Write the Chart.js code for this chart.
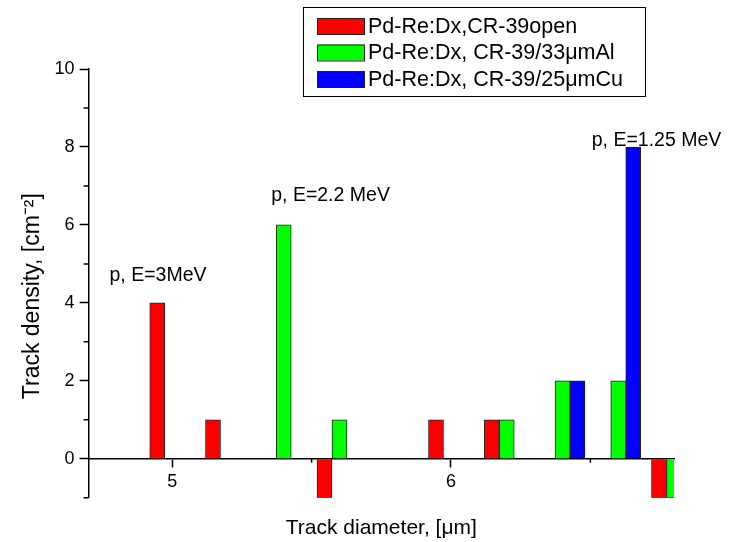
<!DOCTYPE html>
<html>
<head>
<meta charset="utf-8">
<script src="https://cdn.jsdelivr.net/npm/chart.js@4.4.1/dist/chart.umd.min.js"></script>
<style>
  html, body { margin: 0; padding: 0; background: #fff; }
  #wrap { width: 738px; height: 542px; }
</style>
</head>
<body>
<div id="wrap"><canvas id="trackChart"></canvas></div>
<script>
// DATA (bin centres in um, track densities in cm^-2)
var openX = [5.0, 5.2, 5.6, 6.0, 6.2, 6.8];
var openY = [4, 1, -1, 1, 1, -1];
var alX = [5.4, 5.6, 6.2, 6.4, 6.6, 6.8];
var alY = [6, 1, 1, 2, 2, -1];
var cuX = [6.4, 6.6];
var cuY = [2, 8];

var seriesLabels = ['Pd-Re:Dx,CR-39open', 'Pd-Re:Dx, CR-39/33\u03bcmAl', 'Pd-Re:Dx, CR-39/25\u03bcmCu'];
var seriesColors = ['#ff0000', '#00ff00', '#0000ff'];

var xMajorTicks = [5, 6];
var xMinorTicks = [5.5, 6.5];
var yMajorTicks = [0, 2, 4, 6, 8, 10];
var yMinorTicks = [-1, 1, 3, 5, 7, 9];

var noteTexts = ['p, E=3MeV', 'p, E=2.2 MeV', 'p, E=1.25 MeV'];
var noteX = [4.775, 5.355, 6.505];
var noteY = [4.7, 6.75, 8.15];

var FONT = "'Liberation Sans', Arial, sans-serif";

function toPoints(xs, ys) {
    return xs.map(function (v, i) { return { x: v, y: ys[i] }; });
}

// minor ticks on both axes
var minorTicks = {
    id: 'minorTicks',
    afterDraw: function (chart) {
        var ctx = chart.ctx, xs = chart.scales.x, ys = chart.scales.y;
        var y0 = ys.getPixelForValue(0);
        var left = chart.chartArea.left;
        ctx.save();
        ctx.strokeStyle = '#000';
        ctx.lineWidth = 1.5;
        ctx.beginPath();
        xMinorTicks.forEach(function (v) {
            var px = xs.getPixelForValue(v);
            ctx.moveTo(px, y0);
            ctx.lineTo(px, y0 + 4);
        });
        yMinorTicks.forEach(function (v) {
            var py = ys.getPixelForValue(v);
            ctx.moveTo(left, py);
            ctx.lineTo(left - 5, py);
        });
        ctx.stroke();
        ctx.restore();
    }
};

// text labels over the peaks
var peakNotes = {
    id: 'peakNotes',
    afterDraw: function (chart) {
        var ctx = chart.ctx, xs = chart.scales.x, ys = chart.scales.y;
        ctx.save();
        ctx.fillStyle = '#000';
        ctx.font = '19.5px ' + FONT;
        ctx.textAlign = 'left';
        ctx.textBaseline = 'middle';
        noteTexts.forEach(function (t, i) {
            ctx.fillText(t, xs.getPixelForValue(noteX[i]), ys.getPixelForValue(noteY[i]));
        });
        ctx.restore();
    }
};

// boxed legend, one entry per line
var boxLegend = {
    id: 'boxLegend',
    afterDraw: function (chart, args, opts) {
        var ctx = chart.ctx;
        ctx.save();
        ctx.strokeStyle = '#000';
        ctx.lineWidth = 1;
        ctx.fillStyle = '#fff';
        ctx.fillRect(opts.left, opts.top, opts.width, opts.height);
        ctx.strokeRect(opts.left + 0.5, opts.top + 0.5, opts.width, opts.height);
        ctx.font = '21.5px ' + FONT;
        ctx.textBaseline = 'middle';
        chart.data.datasets.forEach(function (ds, i) {
            var cy = opts.top + opts.firstRow + i * opts.rowGap;
            ctx.fillStyle = ds.backgroundColor;
            ctx.fillRect(opts.left + 14, cy - 8, 47, 16);
            ctx.strokeStyle = '#222';
            ctx.strokeRect(opts.left + 14.5, cy - 7.5, 47, 16);
            ctx.fillStyle = '#000';
            ctx.fillText(ds.label, opts.left + 65, cy + 1);
        });
        ctx.restore();
    }
};

var ctx = document.getElementById('trackChart');

var trackChart = new Chart(ctx, {
    type: 'bar',
    data: {
        datasets: [
            { label: seriesLabels[0], data: toPoints(openX, openY), backgroundColor: seriesColors[0] },
            { label: seriesLabels[1], data: toPoints(alX, alY), backgroundColor: seriesColors[1] },
            { label: seriesLabels[2], data: toPoints(cuX, cuY), backgroundColor: seriesColors[2] }
        ]
    },
    options: {
        responsive: true,
        maintainAspectRatio: false,
        animation: false,
        layout: { padding: { left: 19, top: 69, right: 64, bottom: 0 } },
        datasets: {
            bar: { barThickness: 15, borderColor: '#222', borderWidth: 1, borderSkipped: 'start' }
        },
        scales: {
            x: {
                type: 'linear',
                min: 4.7,
                max: 6.8,
                offset: false,
                position: { y: 0 },
                afterBuildTicks: function (s) { s.ticks = xMajorTicks.map(function (v) { return { value: v }; }); },
                afterFit: function (s) { s.height = 0; },
                grid: { offset: false, drawOnChartArea: false, tickLength: 8, tickColor: '#000', tickWidth: 1.5 },
                border: { color: '#000', width: 1.5 },
                ticks: { color: '#000', padding: 4, font: { family: FONT, size: 18 } }
            },
            y: {
                min: -1,
                max: 10,
                afterBuildTicks: function (s) { s.ticks = yMajorTicks.map(function (v) { return { value: v }; }); },
                grid: { drawOnChartArea: false, tickLength: 9, tickColor: '#000', tickWidth: 1.5 },
                border: { color: '#000', width: 1.5 },
                ticks: { color: '#000', padding: 5, font: { family: FONT, size: 18 } },
                title: {
                    display: true,
                    text: 'Track density, [cm\u207b\u00b2]    ',
                    color: '#000',
                    padding: { top: 0, bottom: 3 },
                    font: { family: FONT, size: 23 }
                }
            }
        },
        plugins: {
            legend: { display: false },
            tooltip: { enabled: false },
            title: {
                display: true,
                position: 'bottom',
                fullSize: false,
                text: 'Track diameter, [\u03bcm]',
                color: '#000',
                padding: { top: 18, bottom: 1 },
                font: { family: FONT, size: 21, weight: 'normal' }
            },
            boxLegend: { left: 303, top: 7, width: 342, height: 89, firstRow: 19, rowGap: 26.5 }
        }
    },
    plugins: [minorTicks, peakNotes, boxLegend]
});
</script>
</body>
</html>
